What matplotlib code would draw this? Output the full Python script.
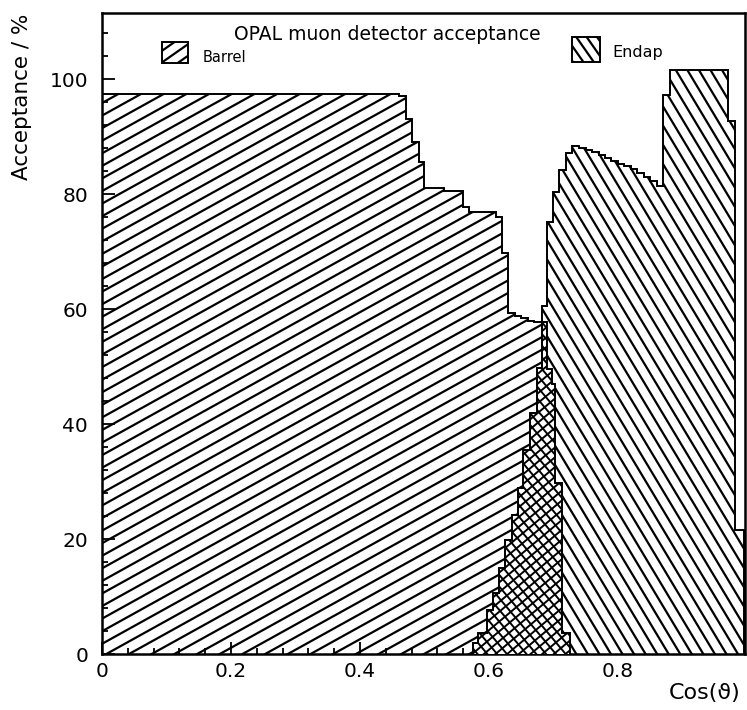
import numpy as np
import matplotlib
matplotlib.use('Agg')
import matplotlib.pyplot as plt
from matplotlib.collections import LineCollection
from matplotlib.patches import Rectangle
from matplotlib.transforms import Affine2D

# barrel acceptance, step histogram (bin edges in cos(theta))
barrel_edges = [0.0, 0.460, 0.471, 0.481, 0.491, 0.500, 0.530, 0.559, 0.569,
                0.611, 0.620, 0.630, 0.640, 0.650, 0.660, 0.670, 0.690, 0.697,
                0.702, 0.713, 0.725]
barrel_vals = [97.4, 97.0, 93.0, 89.1, 85.6, 81.0, 80.5, 77.8, 76.9, 76.1,
               69.7, 59.3, 58.8, 58.4, 58.0, 57.7, 49.6, 47.0, 29.7, 3.6]

# endcap acceptance
endcap_edges = [0.575, 0.583, 0.597, 0.606, 0.616, 0.625, 0.636, 0.645, 0.653,
                0.664, 0.674, 0.682, 0.690, 0.699, 0.709, 0.719, 0.729, 0.74,
                0.75, 0.76, 0.77, 0.78, 0.79, 0.80, 0.81, 0.82, 0.83, 0.84,
                0.85, 0.86, 0.870, 0.880, 0.971, 0.981, 0.995]
endcap_vals = [1.9, 3.6, 7.6, 10.6, 15.0, 19.8, 24.2, 28.9, 35.5, 41.9, 49.7,
               60.5, 75.2, 80.4, 84.2, 87.1, 88.3, 88.1, 87.7, 87.3, 86.8, 86.3,
               85.8, 85.3, 84.8, 84.3, 83.7, 83.0, 82.2, 81.4, 97.2, 101.6,
               92.8, 21.6]

x_ticks = [0, 0.2, 0.4, 0.6, 0.8]
x_ticklabels = ['0', '0.2', '0.4', '0.6', '0.8']
y_ticks = [0, 20, 40, 60, 80, 100]

W, H = 747, 710


def step_at(edges, vals, x):
    edges = np.asarray(edges)
    vals = np.asarray(vals)
    idx = np.searchsorted(edges, x, side='right') - 1
    ok = (idx >= 0) & (idx < len(vals))
    return np.where(ok, vals[np.clip(idx, 0, len(vals) - 1)], 0.0)


def hatch(ax, clip, angle, spacing, lw=1.6, phase=0.0, z=2):
    # straight hatch lines in figure pixels, clipped to a patch
    tr = Affine2D().scale(1.0 / W, 1.0 / H) + ax.figure.transFigure
    a = np.deg2rad(angle)
    d = np.array([np.cos(a), np.sin(a)])
    n = np.array([-np.sin(a), np.cos(a)])
    c = np.array([W / 2, H / 2])
    L = np.hypot(W, H)
    segs = []
    for k in range(-int(L / spacing) - 2, int(L / spacing) + 3):
        p = c + (k * spacing + phase) * n
        segs.append([p - L * d, p + L * d])
    lc = LineCollection(segs, colors='black', linewidths=lw, transform=tr,
                        zorder=z)
    ax.add_collection(lc, autolim=False)
    lc.set_clip_path(clip)
    return lc


fig = plt.figure(figsize=(W / 100, H / 100), dpi=100)
ax = fig.add_axes([102 / W, 56 / H, 643 / W, 641 / H])

# barrel
bp = ax.stairs(barrel_vals, barrel_edges, fill=True, facecolor='white',
               edgecolor='none', zorder=1)
hatch(ax, bp, 29, 11.0, z=1.5)

# endcap
ep = ax.stairs(endcap_vals, endcap_edges, fill=True, facecolor='white',
               edgecolor='none', zorder=2)
hatch(ax, ep, -59, 9.9, z=2.5)

# overlap region -> cross hatch
all_edges = np.union1d(barrel_edges, endcap_edges)
mids = 0.5 * (all_edges[:-1] + all_edges[1:])
overlap = np.minimum(step_at(barrel_edges, barrel_vals, mids),
                     step_at(endcap_edges, endcap_vals, mids))
op = ax.stairs(overlap, all_edges, fill=True, facecolor='white',
               edgecolor='none', zorder=3)
hatch(ax, op, 40, 7.5, lw=1.4, z=3.5)
hatch(ax, op, -50, 7.5, lw=1.4, z=3.5)

# outlines
ax.stairs(barrel_vals, barrel_edges, fill=True, facecolor='none',
          edgecolor='black', lw=1.4, zorder=4)
ax.stairs(endcap_vals, endcap_edges, fill=True, facecolor='none',
          edgecolor='black', lw=1.4, zorder=4)

ax.set_xlim(0, 0.997)
ax.set_ylim(0, 111.5)
ax.set_xticks(x_ticks)
ax.set_xticklabels(x_ticklabels)
ax.set_yticks(y_ticks)
ax.set_xticks(np.arange(0, 0.997, 0.04), minor=True)
ax.set_yticks(np.arange(0, 111.5, 4), minor=True)
ax.tick_params(which='both', direction='in', top=False, right=False,
               labelsize=14.5, width=1.3)
ax.tick_params(axis='x', which='major', length=9, pad=6)
ax.tick_params(axis='y', which='major', length=9, pad=10)
ax.tick_params(which='minor', length=4.5)
for s in ax.spines.values():
    s.set_linewidth(1.8)

# legend boxes in figure pixels (y measured from top)
pix = Affine2D().scale(1.0 / W, -1.0 / H).translate(0, 1) + fig.transFigure
r1 = Rectangle((162, 42), 26, 21, transform=pix, facecolor='white',
               edgecolor='black', lw=1.4, zorder=6, clip_on=False)
ax.add_artist(r1)
hatch(ax, r1, 35, 9.5, z=6.5)
r2 = Rectangle((572, 37), 28, 25, transform=pix, facecolor='white',
               edgecolor='black', lw=1.4, zorder=6, clip_on=False)
ax.add_artist(r2)
hatch(ax, r2, -55, 8.5, z=6.5)

fig.text(203 / W, 1 - 57 / H, 'Barrel', fontsize=10.5, ha='left', va='center')
fig.text(612 / W, 1 - 52 / H, 'Endap', fontsize=11.5, ha='left', va='center')
fig.text(387 / W, 1 - 35 / H, 'OPAL muon detector acceptance', fontsize=13.5,
         ha='center', va='center')
fig.text(22 / W, 1 - 97 / H, 'Acceptance / %', fontsize=15.5, rotation=90,
         ha='center', va='center')
fig.text(705 / W, 1 - 693 / H, 'Cos(ϑ)', fontsize=16, ha='center',
         va='center')

fig.savefig('out.png', dpi=100)
